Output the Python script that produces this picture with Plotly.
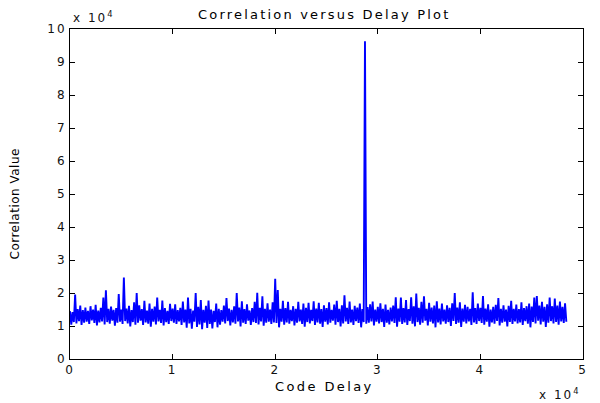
import numpy as np
import plotly.graph_objects as go

# Correlation output sampled along the code delay axis.
# Each sampling interval holds a crest followed by a trough.
SAMPLE_SPACING = 125  # code-delay units between successive samples

corr_crest = [
    14500, 14200, 19500, 15100, 16200, 14800, 15600, 14600, 16000, 15000,
    16400, 14700, 15500, 18600, 20800, 15200, 15900, 14900, 15400, 19700,
    15000, 24700, 15300, 16100, 14800, 17200, 20000, 16300, 15100, 17600,
    14700, 16800, 15200, 15900, 18600, 14900, 17700, 15400, 14600, 16700,
    15300, 16600, 14800, 15500, 17400, 15000, 18600, 15200, 14700, 20000,
    15800, 17900, 14900, 16100, 17700, 15000, 14600, 16800, 15200, 14800,
    16200, 18500, 15300, 14900, 16000, 20000, 15600, 17500, 15100, 16600,
    14700, 15400, 17300, 20100, 15500, 19000, 15200, 16900, 15000, 17200,
    24300, 20900, 15200, 17600, 15400, 17300, 14900, 16000, 15200, 17300,
    15000, 16800, 15500, 17000, 14900, 17500, 15300, 17000, 15100, 16300,
    15400, 17200, 14900, 16500, 17600, 15200, 16300, 19300, 15500, 17400,
    15000, 16100, 15600, 16800, 15100, 96300, 15700, 16600, 17400, 15000,
    15800, 16900, 15200, 16500, 14900, 15600, 16200, 18700, 15300, 18600,
    15400, 17900, 15100, 18700, 16000, 19800, 15500, 17300, 19000, 15200,
    17000, 15600, 16200, 17500, 15300, 16800, 15000, 16300, 15500, 16900,
    20000, 15600, 17200, 15300, 16400, 15800, 15200, 20200, 15400, 16800,
    15500, 19100, 15300, 16600, 15000, 15800, 16400, 18500, 15200, 16300,
    15000, 16100, 17600, 15200, 16500, 15100, 17200, 15400, 16000, 16800,
    15900, 18600, 19100, 16200, 17300, 15800, 16600, 18600, 16000, 18300,
    16200, 17400, 15800, 16900,
]

corr_trough = [
    10400, 11200, 10800, 11500, 10300, 11000, 11300, 10600, 11700, 10900,
    10200, 11100, 11400, 10500, 11200, 10700, 11600, 10100, 11000, 11300,
    10600, 11500, 10800, 9900, 11200, 10400, 11000, 11600, 10300, 11100,
    10700, 9800, 11300, 10500, 11400, 10900, 10200, 11200, 10600, 11500,
    11000, 10600, 11400, 10300, 11100, 9500, 10800, 9200, 11300, 9700,
    10500, 9000, 11000, 9400, 10600, 9300, 11200, 9600, 10400, 11300,
    10800, 11500, 10200, 11100, 10700, 11400, 9900, 11000, 10600, 11600,
    10300, 11200, 10900, 10500, 11400, 10100, 11000, 11300, 10600, 11100,
    10900, 9600, 11300, 10400, 11100, 10700, 11500, 10200, 11000, 11400,
    10600, 9800, 11200, 10800, 11500, 10300, 11100, 10700, 9700, 11300,
    10500, 11000, 11600, 10400, 11200, 9900, 10800, 11400, 10600, 11100,
    10300, 11500, 10900, 9600, 11200, 10700, 11000, 11400, 10200, 11300,
    10800, 11200, 9700, 11000, 10500, 11400, 10900, 9800, 11300, 10600,
    11100, 10300, 11500, 10700, 9900, 11200, 10400, 11000, 11600, 10200,
    11300, 10800, 9600, 11100, 10500, 11400, 10700, 11200, 10000, 11500,
    10600, 11000, 9700, 11300, 10800, 11400, 10300, 11100, 10600, 11500,
    10900, 10400, 11300, 9800, 11100, 10700, 11500, 10200, 11000, 11300,
    9900, 11200, 10600, 11400, 10800, 11100, 10300, 11500, 10700, 9600,
    11200, 10800, 11600, 10500, 11300, 9700, 11000, 11500, 10800, 11200,
    10400, 11400, 10900, 11300,
]

x_tick_values = [0, 10000, 20000, 30000, 40000, 50000]
x_tick_labels = ["0", "1", "2", "3", "4", "5"]
y_tick_values = [0, 10000, 20000, 30000, 40000, 50000,
                 60000, 70000, 80000, 90000, 100000]
y_tick_labels = ["0", "1", "2", "3", "4", "5", "6", "7", "8", "9", "10"]

assert len(corr_crest) == len(corr_trough)

# interleave crest / trough samples into one trace
corr = np.empty(2 * len(corr_crest))
corr[0::2] = corr_crest
corr[1::2] = corr_trough
delay = np.arange(corr.size) * SAMPLE_SPACING

FONT = "DejaVu Sans"


def spaced(text, px):
    return f"<span style='letter-spacing:{px}px'>{text}</span>"


fig = go.Figure()
fig.add_trace(go.Scatter(
    x=delay, y=corr, mode="lines",
    line=dict(color="#0000ff", width=1.9, simplify=False),
    hoverinfo="skip", showlegend=False,
))

axis_common = dict(
    showgrid=False, zeroline=False,
    showline=True, linecolor="black", linewidth=1,
    mirror="ticks", ticks="inside", ticklen=5, tickwidth=1, tickcolor="black",
    tickfont=dict(family=FONT, size=12, color="#111111"),
)

fig.update_xaxes(range=[0, 50000], tickmode="array", tickvals=x_tick_values,
                 ticktext=[spaced(t, 2) for t in x_tick_labels], **axis_common)
fig.update_yaxes(range=[0, 100000], tickmode="array", tickvals=y_tick_values,
                 ticktext=[spaced(t, 2) for t in y_tick_labels], **axis_common)

annotations = [
    dict(text=spaced("Correlation versus Delay Plot", 2.2), x=0.496, y=1.045,
         xanchor="center", yanchor="middle",
         font=dict(family=FONT, size=13, color="black")),
    dict(text=spaced("Code Delay", 2.4), x=0.496, y=-0.082,
         xanchor="center", yanchor="middle",
         font=dict(family=FONT, size=13, color="black")),
    dict(text=spaced("Correlation Value", 0.5), x=-0.108, y=0.47,
         xanchor="center", yanchor="middle", textangle=-90,
         font=dict(family=FONT, size=12, color="black")),
    dict(text=spaced("x 10<sup>4</sup>", 2), x=0.002, y=1.035,
         xanchor="left", yanchor="middle",
         font=dict(family=FONT, size=12, color="#111111")),
    dict(text=spaced("x 10<sup>4</sup>", 2), x=1.0, y=-0.105,
         xanchor="right", yanchor="middle",
         font=dict(family=FONT, size=12, color="#111111")),
]
for a in annotations:
    a.update(xref="paper", yref="paper", showarrow=False)

fig.update_layout(
    width=600, height=403,
    margin=dict(l=70, r=13, t=29, b=44, pad=0),
    paper_bgcolor="white", plot_bgcolor="white",
    annotations=annotations,
)

fig.write_html("out.html", config={"displayModeBar": False})
